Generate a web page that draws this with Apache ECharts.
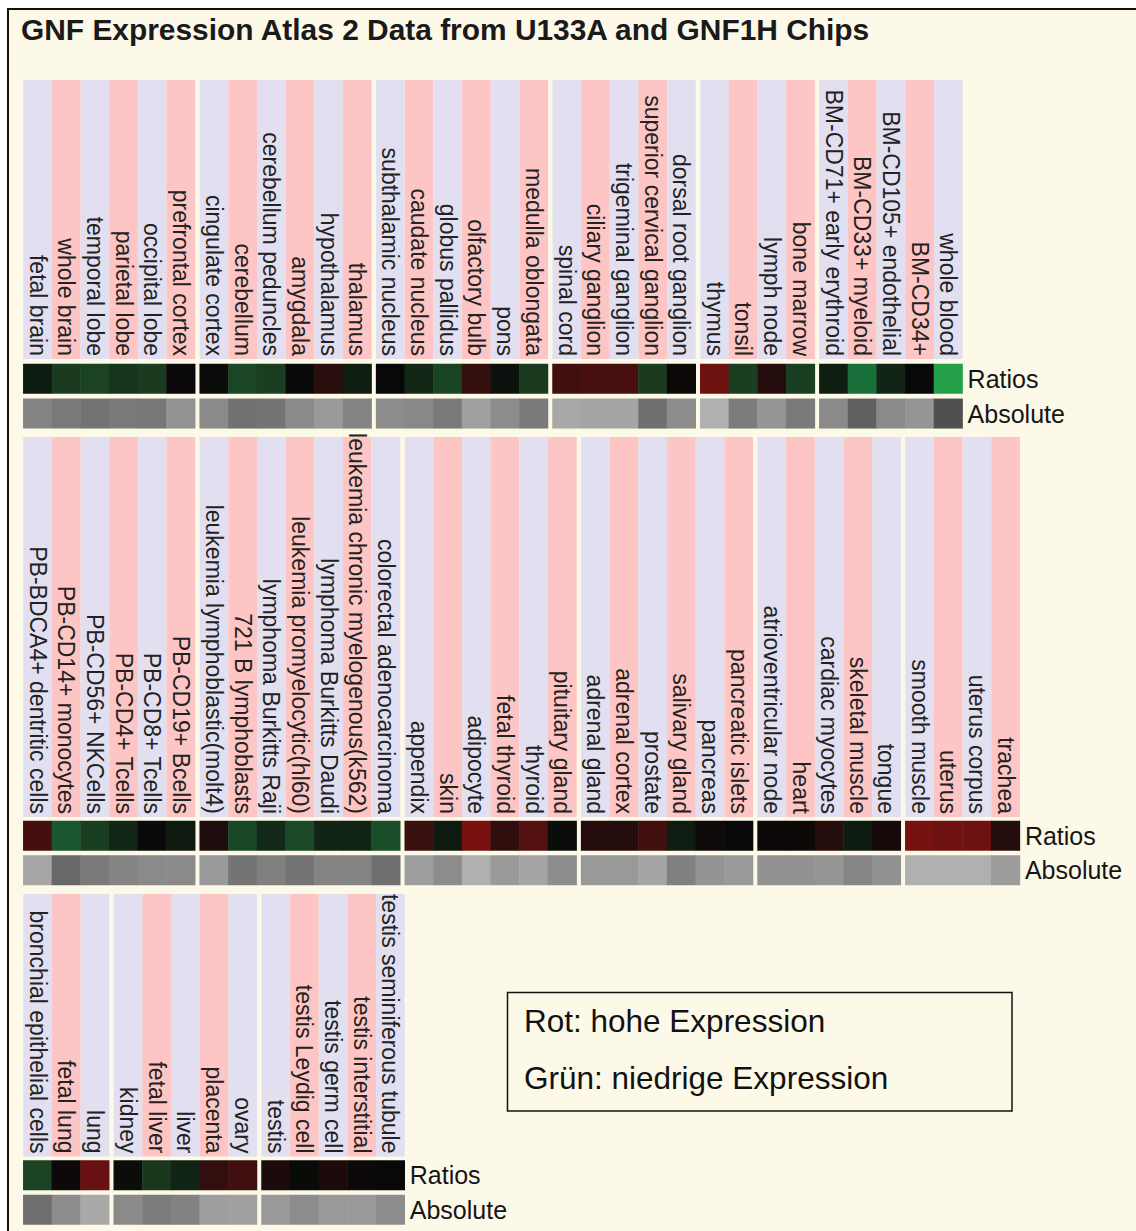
<!DOCTYPE html>
<html>
<head>
<meta charset="utf-8">
<title>GNF Expression Atlas 2</title>
<script src="https://cdn.jsdelivr.net/npm/echarts@6/dist/echarts.min.js"></script>
<style>
  html, body { margin: 0; padding: 0; background: #ffffff; overflow: hidden; }
  #chart { width: 1136px; height: 1231px; }
</style>
</head>
<body>
<div id="chart"></div>
<script>
// ---- Expression data, one block of arrays per tissue group ----
// Ratios: log ratio vs. median (negative = green, positive = red)
// Absolute: relative signal level (0 = light, 1 = dark)

const rowNames = ['Ratios', 'Absolute'];

// strip 1
const cortexTissues = ['fetal brain', 'whole brain', 'temporal lobe', 'parietal lobe', 'occipital lobe', 'prefrontal cortex'];
const cortexRatios = [-0.12, -0.33, -0.37, -0.28, -0.33, 0.02];
const cortexAbsolute = [0.46, 0.55, 0.62, 0.55, 0.58, 0.33];

const brainRegionTissues = ['cingulate cortex', 'cerebellum', 'cerebellum peduncles', 'amygdala', 'hypothalamus', 'thalamus'];
const brainRegionRatios = [-0.03, -0.40, -0.35, -0.01, 0.30, -0.14];
const brainRegionAbsolute = [0.41, 0.63, 0.61, 0.41, 0.27, 0.46];

const deepBrainTissues = ['subthalamic nucleus', 'caudate nucleus', 'globus pallidus', 'olfactory bulb', 'pons', 'medulla oblongata'];
const deepBrainRatios = [0.0, -0.20, -0.39, 0.38, -0.06, -0.32];
const deepBrainAbsolute = [0.39, 0.43, 0.55, 0.21, 0.39, 0.55];

const gangliaTissues = ['spinal cord', 'ciliary ganglion', 'trigeminal ganglion', 'superior cervical ganglion', 'dorsal root ganglion'];
const gangliaRatios = [0.47, 0.52, 0.52, -0.33, 0.04];
const gangliaAbsolute = [0.14, 0.18, 0.18, 0.64, 0.39];

const lymphoidTissues = ['thymus', 'tonsil', 'lymph node', 'bone marrow'];
const lymphoidRatios = [0.80, -0.35, 0.25, -0.35];
const lymphoidAbsolute = [0.07, 0.54, 0.31, 0.55];

const marrowTissues = ['BM-CD71+ early erythroid', 'BM-CD33+ myeloid', 'BM-CD105+ endothelial', 'BM-CD34+', 'whole blood'];
const marrowRatios = [-0.14, -0.67, -0.18, 0.0, -1.0];
const marrowAbsolute = [0.41, 0.79, 0.41, 0.31, 0.93];

// strip 2
const bloodCellTissues = ['PB-BDCA4+ dentritic cells', 'PB-CD14+ monocytes', 'PB-CD56+ NKCells', 'PB-CD4+ Tcells', 'PB-CD8+ Tcells', 'PB-CD19+ Bcells'];
const bloodCellRatios = [0.51, -0.51, -0.35, -0.20, -0.01, -0.11];
const bloodCellAbsolute = [0.16, 0.71, 0.55, 0.46, 0.41, 0.41];

const cellLineTissues = ['leukemia lymphoblastic(molt4)', '721 B lymphoblasts', 'lymphoma Burkitts Raji', 'leukemia promyelocytic(hl60)', 'lymphoma Burkitts Daudi', 'leukemia chronic myelogenous(k562)', 'colorectal adenocarcinoma'];
const cellLineRatios = [0.20, -0.41, -0.22, -0.42, -0.18, -0.17, -0.45];
const cellLineAbsolute = [0.27, 0.61, 0.50, 0.61, 0.46, 0.46, 0.66];

const glandTissues = ['appendix', 'skin', 'adipocyte', 'fetal thyroid', 'thyroid', 'pituitary gland'];
const glandRatios = [0.42, -0.11, 0.88, 0.35, 0.61, -0.03];
const glandAbsolute = [0.23, 0.39, 0.07, 0.27, 0.18, 0.38];

const adrenalTissues = ['adrenal gland', 'adrenal cortex', 'prostate', 'salivary gland', 'pancreas', 'pancreatic islets'];
const adrenalRatios = [0.25, 0.23, 0.48, -0.13, 0.07, 0.0];
const adrenalAbsolute = [0.28, 0.28, 0.18, 0.50, 0.32, 0.28];

const muscleTissues = ['atrioventricular node', 'heart', 'cardiac myocytes', 'skeletal muscle', 'tongue'];
const muscleRatios = [0.04, 0.04, 0.25, -0.12, 0.12];
const muscleAbsolute = [0.34, 0.34, 0.30, 0.45, 0.34];

const uterineTissues = ['smooth muscle', 'uterus', 'uterus corpus', 'trachea'];
const uterineRatios = [0.85, 0.81, 0.80, 0.26];
const uterineAbsolute = [0.07, 0.07, 0.07, 0.25];

// strip 3
const lungTissues = ['bronchial epithelial cells', 'fetal lung', 'lung'];
const lungRatios = [-0.37, 0.04, 0.76];
const lungAbsolute = [0.66, 0.39, 0.14];

const organTissues = ['kidney', 'fetal liver', 'liver', 'placenta', 'ovary'];
const organRatios = [-0.03, -0.31, -0.17, 0.36, 0.47];
const organAbsolute = [0.41, 0.54, 0.48, 0.23, 0.21];

const testisTissues = ['testis', 'testis Leydig cell', 'testis germ cell', 'testis interstitial', 'testis seminiferous tubule'];
const testisRatios = [0.18, -0.02, 0.18, 0.05, 0.0];
const testisAbsolute = [0.28, 0.39, 0.28, 0.28, 0.39];

const titleText = 'GNF Expression Atlas 2 Data from U133A and GNF1H Chips';
const keyLines = ['Rot: hohe Expression', 'Grün: niedrige Expression'];

// ---- Layout of the three strips ----
const strips = [
  {
    groups: [
      [cortexTissues, cortexRatios, cortexAbsolute],
      [brainRegionTissues, brainRegionRatios, brainRegionAbsolute],
      [deepBrainTissues, deepBrainRatios, deepBrainAbsolute],
      [gangliaTissues, gangliaRatios, gangliaAbsolute],
      [lymphoidTissues, lymphoidRatios, lymphoidAbsolute],
      [marrowTissues, marrowRatios, marrowAbsolute]
    ],
    bandTop: 80, bandBottom: 359, ratioTop: 364, absoluteTop: 398.8
  },
  {
    groups: [
      [bloodCellTissues, bloodCellRatios, bloodCellAbsolute],
      [cellLineTissues, cellLineRatios, cellLineAbsolute],
      [glandTissues, glandRatios, glandAbsolute],
      [adrenalTissues, adrenalRatios, adrenalAbsolute],
      [muscleTissues, muscleRatios, muscleAbsolute],
      [uterineTissues, uterineRatios, uterineAbsolute]
    ],
    bandTop: 437, bandBottom: 817, ratioTop: 821, absoluteTop: 855.5
  },
  {
    groups: [
      [lungTissues, lungRatios, lungAbsolute],
      [organTissues, organRatios, organAbsolute],
      [testisTissues, testisRatios, testisAbsolute]
    ],
    bandTop: 894, bandBottom: 1156.5, ratioTop: 1160.5, absoluteTop: 1195
  }
];

const COL_W = 28.65;
const GROUP_GAP = 4.5;
const STRIP_LEFT = 23.3;
const CELL_H = 29.5;
const FONT = '"Liberation Sans", Arial, Helvetica, sans-serif';
const BAND_COLORS = ['#e1dff0', '#fdc5c3'];
const CREAM = '#fdf9e8';
const RATIO_COLORS = ['#24a048', '#186e3a', '#1a3c20', '#080808', '#2e0e0e', '#5c1010', '#8a1212'];
const ABSOLUTE_COLORS = ['#b8b8b8', '#484848'];

const grid = [], xAxis = [], yAxis = [], series = [];
const ratioSeries = [], absoluteSeries = [];

function addGrid(box) {
  grid.push(Object.assign({ outerBoundsMode: 'none', containLabel: false }, box));
  return grid.length - 1;
}

strips.forEach(strip => {
  let left = STRIP_LEFT;
  strip.groups.forEach((group, gi) => {
    const [names, ratios, absolute] = group;
    const width = names.length * COL_W;
    const isLast = gi === strip.groups.length - 1;

    // label bands with alternating colours
    const bandGrid = addGrid({ left, top: strip.bandTop, width, height: strip.bandBottom - strip.bandTop });
    xAxis.push({
      type: 'category', gridIndex: bandGrid, data: names, position: 'bottom',
      axisLine: { show: false }, axisTick: { show: false }, splitLine: { show: false },
      splitArea: { show: true, interval: 0, areaStyle: { color: BAND_COLORS } },
      axisLabel: {
        show: true, inside: true, rotate: -90, interval: 0, margin: 3, hideOverlap: false,
        fontSize: 23, fontFamily: FONT, color: '#222222'
      }
    });
    yAxis.push({ type: 'value', gridIndex: bandGrid, min: 0, max: 1, show: false });

    // ratio and absolute rows
    [[strip.ratioTop, ratios, rowNames[0], ratioSeries], [strip.absoluteTop, absolute, rowNames[1], absoluteSeries]]
      .forEach(([top, values, rowName, bucket]) => {
        const g = addGrid({ left, top, width, height: CELL_H });
        xAxis.push({ type: 'category', gridIndex: g, data: names, show: false });
        yAxis.push({
          type: 'category', gridIndex: g, data: [rowName], position: 'right', show: isLast,
          axisLine: { show: false }, axisTick: { show: false }, splitLine: { show: false },
          axisLabel: { show: isLast, margin: 5, fontSize: 25, fontFamily: FONT, color: '#151515' }
        });
        bucket.push(series.length);
        series.push({
          type: 'heatmap', xAxisIndex: xAxis.length - 1, yAxisIndex: yAxis.length - 1,
          data: values.map((v, i) => [i, 0, v]),
          emphasis: { disabled: true }, silent: true,
          itemStyle: { borderWidth: 0 }
        });
      });

    left += width + GROUP_GAP;
  });
});

const chart = echarts.init(document.getElementById('chart'), null, { renderer: 'svg' });
chart.setOption({
  animation: false,
  backgroundColor: '#ffffff',
  title: {
    text: titleText, left: 16, top: 9,
    textStyle: { fontSize: 29.9, fontWeight: 'bold', fontFamily: FONT, color: '#1a1a1a' }
  },
  graphic: [
    { type: 'rect', z: -20, silent: true, shape: { x: 7, y: 8, width: 1140, height: 1240 }, style: { fill: CREAM } },
    { type: 'rect', z: -19, silent: true, shape: { x: 7, y: 8, width: 1140, height: 2 }, style: { fill: '#111111' } },
    { type: 'rect', z: -19, silent: true, shape: { x: 7, y: 8, width: 2, height: 1240 }, style: { fill: '#111111' } },
    { type: 'rect', silent: true, shape: { x: 507.5, y: 992.5, width: 504.5, height: 118.5 }, style: { fill: 'none', stroke: '#111111', lineWidth: 1.5 } },
    { type: 'text', silent: true, x: 524, y: 1021, style: { text: keyLines[0], fontSize: 31.5, fontFamily: FONT, fill: '#111111', verticalAlign: 'middle', align: 'left' } },
    { type: 'text', silent: true, x: 524, y: 1078, style: { text: keyLines[1], fontSize: 31.5, fontFamily: FONT, fill: '#111111', verticalAlign: 'middle', align: 'left' } }
  ],
  visualMap: [
    { type: 'continuous', show: false, min: -1, max: 1, dimension: 2, seriesIndex: ratioSeries, inRange: { color: RATIO_COLORS } },
    { type: 'continuous', show: false, min: 0, max: 1, dimension: 2, seriesIndex: absoluteSeries, inRange: { color: ABSOLUTE_COLORS } }
  ],
  grid, xAxis, yAxis, series
});
</script>
</body>
</html>
